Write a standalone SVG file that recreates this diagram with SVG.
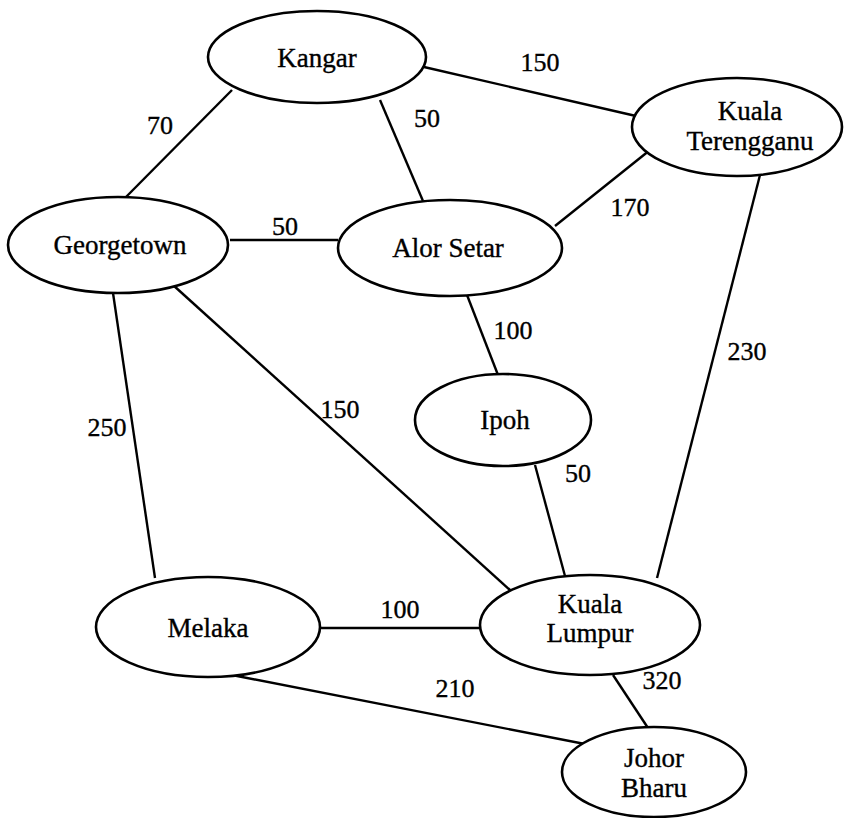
<svg xmlns="http://www.w3.org/2000/svg" width="849" height="818" viewBox="0 0 849 818">
<style>
.n{fill:#fff;stroke:#000;stroke-width:2.6}
.e{stroke:#000;stroke-width:2.4;fill:none}
text{font-family:"Liberation Serif","Times New Roman",serif;font-size:27px;fill:#000;stroke:#000;stroke-width:0.35;text-anchor:middle}
.l{font-size:26px}
</style>
<rect width="849" height="818" fill="#fff"/>
<g id="edges">
<line class="e" x1="232" y1="90" x2="125" y2="198"/>
<line class="e" x1="424" y1="67" x2="636" y2="116"/>
<line class="e" x1="380" y1="100" x2="423" y2="201"/>
<line class="e" x1="650" y1="150" x2="555" y2="226"/>
<line class="e" x1="230" y1="240" x2="338" y2="240"/>
<line class="e" x1="467" y1="295" x2="498" y2="375"/>
<line class="e" x1="113" y1="293" x2="155" y2="578"/>
<line class="e" x1="173" y1="285" x2="510" y2="590"/>
<line class="e" x1="760" y1="175" x2="657" y2="578"/>
<line class="e" x1="535" y1="465" x2="565" y2="576"/>
<line class="e" x1="318" y1="628" x2="480" y2="628"/>
<line class="e" x1="232" y1="675" x2="590" y2="745"/>
<line class="e" x1="613" y1="675" x2="648" y2="728"/>
<text class="l" x="160" y="134">70</text>
<text class="l" x="540" y="71">150</text>
<text class="l" x="427" y="127">50</text>
<text class="l" x="630" y="216">170</text>
<text class="l" x="285" y="235">50</text>
<text class="l" x="513" y="339">100</text>
<text class="l" x="107" y="436">250</text>
<text class="l" x="340" y="418">150</text>
<text class="l" x="747" y="360">230</text>
<text class="l" x="578" y="482">50</text>
<text class="l" x="400" y="618">100</text>
<text class="l" x="455" y="697">210</text>
<text class="l" x="662" y="689">320</text>
</g>
<g id="kangar"><ellipse class="n" cx="317" cy="57" rx="109" ry="46"/><text x="317" y="67">Kangar</text></g>
<g id="kuala-terengganu"><ellipse class="n" cx="737" cy="127" rx="105" ry="49"/><text x="750" y="120">Kuala</text><text x="750" y="150">Terengganu</text></g>
<g id="georgetown"><ellipse class="n" cx="118" cy="245" rx="110" ry="48"/><text x="120" y="254">Georgetown</text></g>
<g id="alor-setar"><ellipse class="n" cx="450" cy="248" rx="112" ry="48"/><text x="448" y="257">Alor Setar</text></g>
<g id="ipoh"><ellipse class="n" cx="503" cy="420" rx="88" ry="46"/><text x="505" y="429">Ipoh</text></g>
<g id="melaka"><ellipse class="n" cx="208" cy="627" rx="112" ry="50"/><text x="208" y="637">Melaka</text></g>
<g id="kuala-lumpur"><ellipse class="n" cx="590" cy="625" rx="110" ry="50"/><text x="590" y="613">Kuala</text><text x="590" y="642">Lumpur</text></g>
<g id="johor-bharu"><ellipse class="n" cx="654" cy="772" rx="92" ry="45"/><text x="654" y="767">Johor</text><text x="654" y="797">Bharu</text></g>
</svg>
